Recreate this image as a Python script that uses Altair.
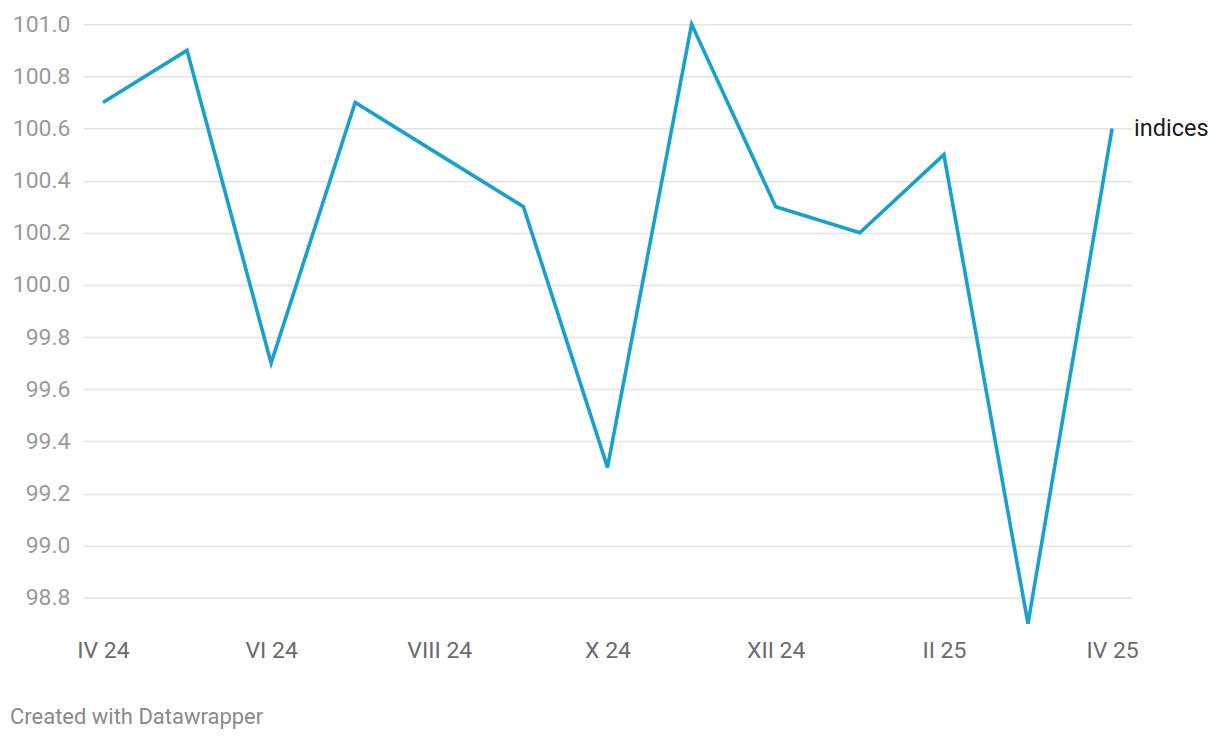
import altair as alt
import pandas as pd

months = ["IV 24", "V 24", "VI 24", "VII 24", "VIII 24", "IX 24", "X 24",
          "XI 24", "XII 24", "I 25", "II 25", "III 25", "IV 25"]
values = [100.7, 100.9, 99.7, 100.7, 100.5, 100.3, 99.3,
          101.0, 100.3, 100.2, 100.5, 98.7, 100.6]
x_ticks = ["IV 24", "VI 24", "VIII 24", "X 24", "XII 24", "II 25", "IV 25"]
y_ticks = [98.8, 99.0, 99.2, 99.4, 99.6, 99.8, 100.0, 100.2, 100.4, 100.6, 100.8, 101.0]
series_name = "indices"
credit = "Created with Datawrapper"

df = pd.DataFrame({"month": months, "value": values})
last = df.iloc[[-1]].assign(label=series_name)

FONT = "Roboto"

x_enc = alt.X("month:N", sort=months,
              scale=alt.Scale(type="point", padding=0.2376),
              axis=alt.Axis(values=x_ticks, title=None, labelAngle=0, ticks=False,
                            domain=False, grid=False, labelFont=FONT, labelFontSize=23,
                            labelColor="#6b6b6b", labelPadding=16))
y_enc = alt.Y("value:Q", scale=alt.Scale(domain=[98.7, 101.0], nice=False, zero=False),
              axis=alt.Axis(values=y_ticks, title=None, ticks=False, domain=False,
                            grid=True, gridColor="#e3e3e3", gridWidth=1.5,
                            labelFont=FONT, labelFontSize=23, labelColor="#9a9a9a",
                            labelPadding=13, format=".1f"))

line = alt.Chart(df).mark_line(color="#18a1cd", strokeWidth=3.6, strokeJoin="miter",
                               clip=False).encode(x=x_enc, y=y_enc)

lab = alt.Chart(last).mark_text(align="left", baseline="middle", dx=22, font=FONT,
                                fontSize=23.5, color="#1a1a1a").encode(
    x=alt.X("month:N", sort=months), y="value:Q", text="label:N")

cred = alt.Chart(pd.DataFrame({"t": [credit]})).mark_text(
    align="left", baseline="middle", font=FONT, fontSize=22, color="#8a8a8a").encode(
    x=alt.value(-73), y=alt.value(693), text="t:N")

chart = alt.layer(line, lab, cred).properties(
    width=1050, height=600,
    autosize=alt.AutoSizeParams(type="none"),
    padding={"left": 75, "top": 16, "right": 80, "bottom": 110},
).configure_view(stroke=None)

chart.save("out.html", embed_options={"renderer": "svg", "actions": False})
